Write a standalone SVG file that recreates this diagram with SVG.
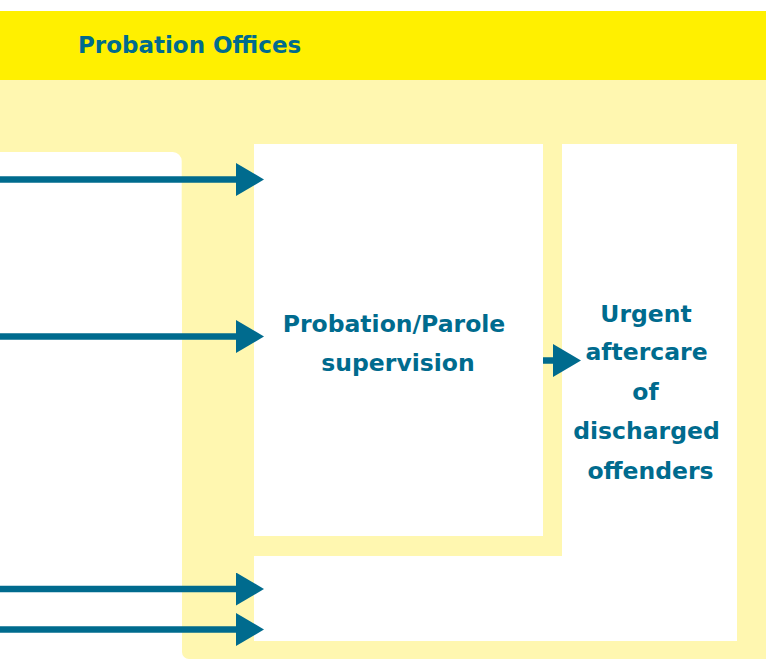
<svg xmlns="http://www.w3.org/2000/svg" width="766" height="659" viewBox="0 0 766 659">
  <style>
    .lbl { font-family: "DejaVu Sans", "Liberation Sans", sans-serif; font-weight: bold; fill: #006B8E; font-size: 23.5px; text-anchor: middle; }
    .hdr { font-family: "DejaVu Sans", "Liberation Sans", sans-serif; font-weight: bold; fill: #006B8E; font-size: 23px; }
    .conn { stroke: #006B8E; stroke-width: 6.5; fill: none; }
    .box { fill: #FFFFFF; }
  </style>
  <defs>
    <marker id="ah" markerUnits="userSpaceOnUse" markerWidth="28" markerHeight="33" refX="4" refY="16.5" orient="auto">
      <path d="M0,0 L28,16.5 L0,33 Z" fill="#006B8E"/>
    </marker>
  </defs>
  <rect x="0" y="0" width="766" height="659" fill="#FFFFFF"/>
  <g id="probation-offices">
    <rect x="0" y="11" width="766" height="69" fill="#FFF000"/>
    <text class="hdr" x="78" y="52.5">Probation Offices</text>
    <rect x="0" y="80" width="200" height="220" fill="#FFF7B0"/>
    <rect x="182" y="80" width="600" height="579" rx="7" fill="#FFF7B0"/>
  </g>
  <g id="left-area">
    <rect x="-20" y="152" width="201.7" height="560" rx="9" class="box"/>
  </g>
  <g id="supervision">
    <rect x="254" y="144" width="289" height="392" class="box"/>
    <text class="lbl" x="394" y="331.5">Probation/Parole</text>
    <text class="lbl" x="398" y="371">supervision</text>
  </g>
  <g id="urgent-aftercare">
    <path d="M562,144 H737 V641 H254 V556 H562 Z" class="box"/>
    <text class="lbl" x="646" y="321.5">Urgent</text>
    <text class="lbl" x="646.5" y="360">aftercare</text>
    <text class="lbl" x="645.5" y="399.5">of</text>
    <text class="lbl" x="646.5" y="439">discharged</text>
    <text class="lbl" x="650.5" y="479">offenders</text>
  </g>
  <g id="connectors">
    <line class="conn" x1="-5" y1="179.5" x2="240" y2="179.5" marker-end="url(#ah)"/>
    <line class="conn" x1="-5" y1="336.5" x2="240" y2="336.5" marker-end="url(#ah)"/>
    <line class="conn" x1="543" y1="360.5" x2="557" y2="360.5" marker-end="url(#ah)"/>
    <line class="conn" x1="-5" y1="589" x2="240" y2="589" marker-end="url(#ah)"/>
    <line class="conn" x1="-5" y1="629.5" x2="240" y2="629.5" marker-end="url(#ah)"/>
  </g>
</svg>
